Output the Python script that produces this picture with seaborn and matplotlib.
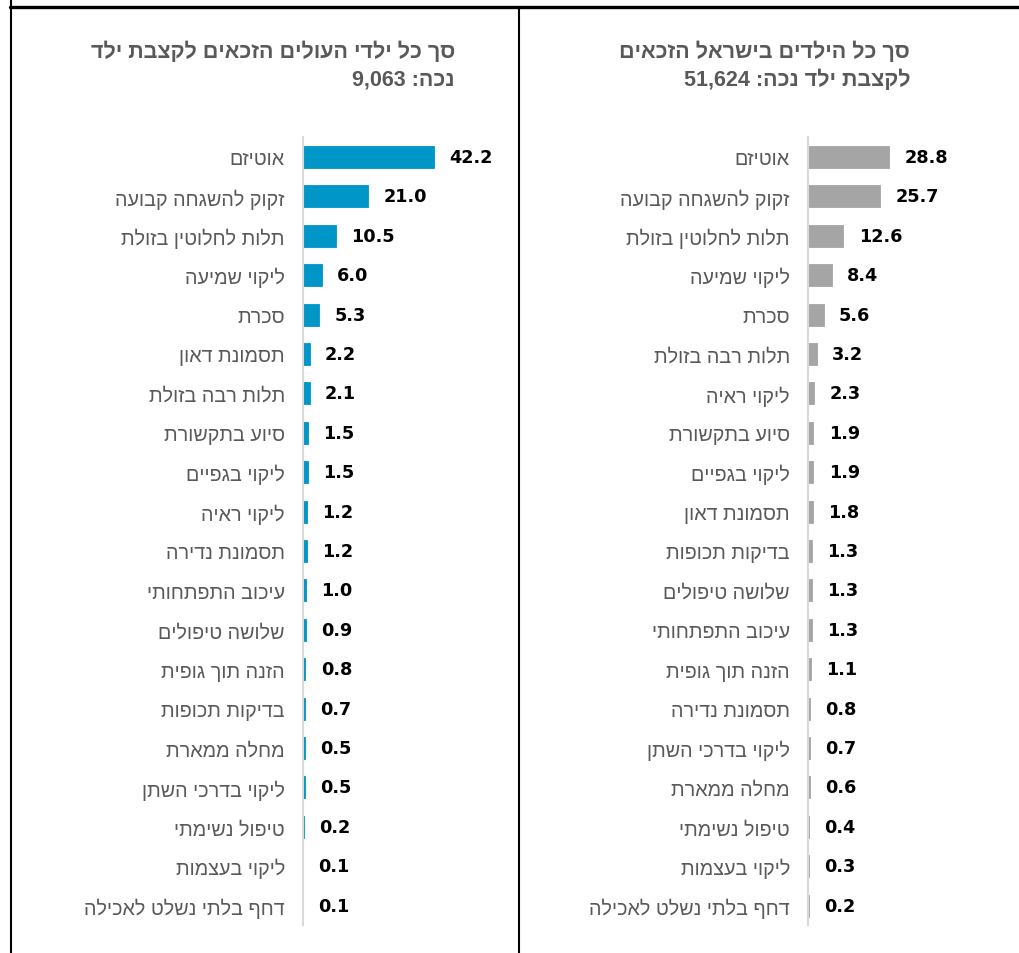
import re
import matplotlib
matplotlib.use("Agg")
import matplotlib.pyplot as plt
from matplotlib.lines import Line2D
import seaborn as sns

sns.set_theme(style="white")
plt.rcParams['font.family'] = ['Liberation Sans', 'DejaVu Sans']

# ---------------- data ----------------
olim_categories = ["אוטיזם", "זקוק להשגחה קבועה", "תלות לחלוטין בזולת", "ליקוי שמיעה", "סכרת",
                   "תסמונת דאון", "תלות רבה בזולת", "סיוע בתקשורת", "ליקוי בגפיים", "ליקוי ראיה",
                   "תסמונת נדירה", "עיכוב התפתחותי", "שלושה טיפולים", "הזנה תוך גופית", "בדיקות תכופות",
                   "מחלה ממארת", "ליקוי בדרכי השתן", "טיפול נשימתי", "ליקוי בעצמות", "דחף בלתי נשלט לאכילה"]
olim_values = [42.2, 21.0, 10.5, 6.0, 5.3, 2.2, 2.1, 1.5, 1.5, 1.2,
               1.2, 1.0, 0.9, 0.8, 0.7, 0.5, 0.5, 0.2, 0.1, 0.1]

israel_categories = ["אוטיזם", "זקוק להשגחה קבועה", "תלות לחלוטין בזולת", "ליקוי שמיעה", "סכרת",
                     "תלות רבה בזולת", "ליקוי ראיה", "סיוע בתקשורת", "ליקוי בגפיים", "תסמונת דאון",
                     "בדיקות תכופות", "שלושה טיפולים", "עיכוב התפתחותי", "הזנה תוך גופית", "תסמונת נדירה",
                     "ליקוי בדרכי השתן", "מחלה ממארת", "טיפול נשימתי", "ליקוי בעצמות", "דחף בלתי נשלט לאכילה"]
israel_values = [28.8, 25.7, 12.6, 8.4, 5.6, 3.2, 2.3, 1.9, 1.9, 1.8,
                 1.3, 1.3, 1.3, 1.1, 0.8, 0.7, 0.6, 0.4, 0.3, 0.2]

olim_title = ["סך כל ילדי העולים הזכאים לקצבת ילד", "נכה: 9,063"]
israel_title = ["סך כל הילדים בישראל הזכאים", "לקצבת ילד נכה: 51,624"]


def rtl(s):
    """Convert logical-order Hebrew text to visual order (numbers stay LTR)."""
    tokens = re.findall(r'[0-9][0-9,.]*|[^0-9]+', s)
    return ''.join(t if t[0].isdigit() else t[::-1] for t in reversed(tokens))


W, H = 1019, 954
fig = plt.figure(figsize=(W / 100, H / 100), dpi=100)
fig.patch.set_facecolor("white")

LABEL_COLOR = "#595959"
AXIS_COLOR = "#D9D9D9"


def panel(x0, px_per_unit, cats, vals, color):
    width_px = 207
    top_px, bot_px = 138.3, 926.3
    ax = fig.add_axes([x0 / W, 1 - bot_px / H, width_px / W, (bot_px - top_px) / H])
    sns.barplot(x=vals, y=cats, orient="h", color=color, saturation=1,
                width=0.56, ax=ax, edgecolor=color, linewidth=0.6)
    ax.set_xlim(0, width_px / px_per_unit)
    ax.set_ylim(len(cats) - 0.5, -0.5)
    ax.set_yticks(range(len(cats)))
    ax.set_yticklabels([rtl(c) for c in cats], fontsize=14.2, color=LABEL_COLOR,
                       family=['Liberation Sans', 'DejaVu Sans'])
    ax.tick_params(axis="y", length=0, pad=13)
    ax.set_xticks([])
    ax.set_xlabel("")
    ax.set_ylabel("")
    for side in ["top", "right", "bottom"]:
        ax.spines[side].set_visible(False)
    ax.spines["left"].set_color(AXIS_COLOR)
    ax.spines["left"].set_linewidth(1.5)
    ax.patch.set_alpha(0)
    for i, v in enumerate(vals):
        ax.annotate(f"{v:.1f}", xy=(v, i), xytext=(11, 0), textcoords="offset points",
                    ha="left", va="center", fontsize=12.7, fontweight="bold",
                    color="black", family=["DejaVu Sans"])
    return ax


panel(303, 3.10, olim_categories, olim_values, "#0096C8")
panel(808, 2.81, israel_categories, israel_values, "#A5A5A5")

# titles
for x_px, lines in [(455, olim_title), (910, israel_title)]:
    for y_px, line in zip([52, 80], lines):
        fig.text(x_px / W, 1 - y_px / H, rtl(line), ha="right", va="center",
                 fontsize=15.5, fontweight="bold", color=LABEL_COLOR)

# frame lines
fig.add_artist(Line2D([10 / W, 1], [1 - 7.5 / H, 1 - 7.5 / H], color="black", lw=2.4,
                      transform=fig.transFigure))
fig.add_artist(Line2D([11 / W, 11 / W], [0, 1], color="black", lw=1.5,
                      transform=fig.transFigure))
fig.add_artist(Line2D([519 / W, 519 / W], [0, 1 - 8 / H], color="black", lw=1.5,
                      transform=fig.transFigure))

fig.savefig("out.png", dpi=100)
